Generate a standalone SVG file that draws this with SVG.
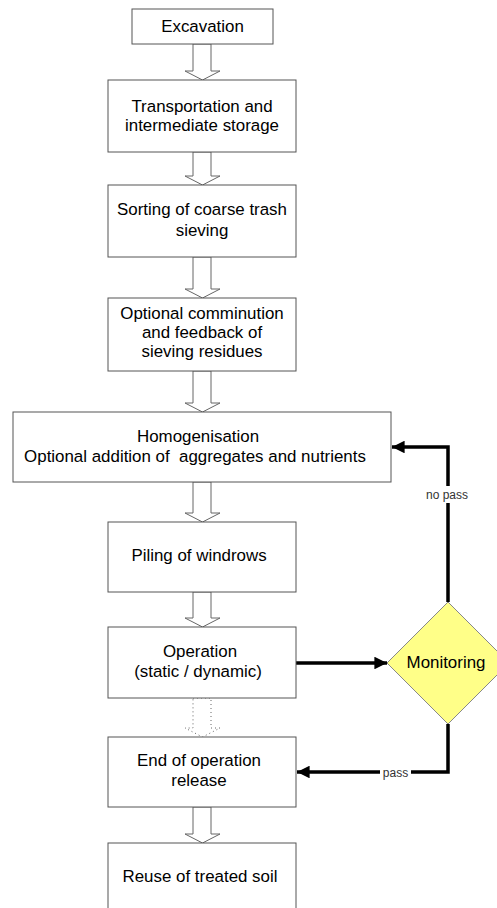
<svg xmlns="http://www.w3.org/2000/svg" width="497" height="908" viewBox="0 0 497 908">
  <defs>
    <style>
      .box { fill: #ffffff; stroke: #555555; stroke-width: 1; }
      .lbl { font-family: "Liberation Sans", Arial, sans-serif; font-size: 16.9px; fill: #000000; text-anchor: middle; }
      .flow { fill: #ffffff; stroke: #666666; stroke-width: 1; }
      .flow-dot { fill: #ffffff; stroke: #666666; stroke-width: 1; stroke-dasharray: 1 3; }
      .link { fill: none; stroke: #000000; stroke-width: 3.5; }
      .tag { font-family: "Liberation Sans", Arial, sans-serif; font-size: 12px; fill: #333333; text-anchor: middle; }
    </style>
    <marker id="head" viewBox="0 0 10 10" refX="10" refY="5" markerWidth="5" markerHeight="3.6" orient="auto" markerUnits="strokeWidth">
      <path d="M0,0 L10,5 L0,10 Z" fill="#000000"/>
    </marker>
  </defs>

  <!-- connectors -->
  <g id="connectors">
    <!-- hollow block arrows between the process steps -->
    <path class="flow" d="M193,44 L211,44 L211,71 L220,71 L202.5,80 L185,71 L193,71 Z"/>
    <path class="flow" d="M193,152 L211,152 L211,176 L220,176 L202.5,185 L185,176 L193,176 Z"/>
    <path class="flow" d="M193,257 L211,257 L211,289 L220,289 L202.5,298 L185,289 L193,289 Z"/>
    <path class="flow" d="M193,371 L211,371 L211,403 L220,403 L202.5,412 L185,403 L193,403 Z"/>
    <path class="flow" d="M193,482 L211,482 L211,513 L220,513 L202.5,522 L185,513 L193,513 Z"/>
    <path class="flow" d="M193,592 L211,592 L211,618 L220,618 L202.5,627 L185,618 L193,618 Z"/>
    <path class="flow-dot" d="M193,698 L211,698 L211,728 L220,728 L202.5,737 L185,728 L193,728 Z"/>
    <path class="flow" d="M193,807 L211,807 L211,834 L220,834 L202.5,843 L185,834 L193,834 Z"/>

    <!-- operation to monitoring -->
    <line class="link" x1="296" y1="663" x2="387" y2="663" marker-end="url(#head)"/>
    <!-- monitoring: no pass back to homogenisation -->
    <path class="link" d="M448,602 L448,447 L392,447" marker-end="url(#head)"/>
    <rect x="421" y="486" width="54" height="17" fill="#ffffff"/>
    <text class="tag" x="447" y="499">no pass</text>
    <!-- monitoring: pass to end of operation -->
    <path class="link" d="M448,724 L448,772 L297,772" marker-end="url(#head)"/>
    <rect x="380" y="764" width="31" height="16" fill="#ffffff"/>
    <text class="tag" x="395.5" y="776.5">pass</text>
  </g>

  <g id="excavation">
    <rect class="box" x="132" y="9" width="141" height="35"/>
    <text class="lbl" x="202.5" y="32">Excavation</text>
  </g>

  <g id="transportation">
    <rect class="box" x="108" y="80" width="188" height="72"/>
    <text class="lbl" x="202" y="112">Transportation and</text>
    <text class="lbl" x="202" y="131">intermediate storage</text>
  </g>

  <g id="sorting">
    <rect class="box" x="108" y="185" width="188" height="72"/>
    <text class="lbl" x="202" y="215">Sorting of coarse trash</text>
    <text class="lbl" x="202" y="236">sieving</text>
  </g>

  <g id="comminution">
    <rect class="box" x="108" y="298" width="188" height="73"/>
    <text class="lbl" x="202" y="319">Optional comminution</text>
    <text class="lbl" x="202" y="338">and feedback of</text>
    <text class="lbl" x="202" y="357">sieving residues</text>
  </g>

  <g id="homogenisation">
    <rect class="box" x="13" y="412" width="378" height="70"/>
    <text class="lbl" x="198" y="442">Homogenisation</text>
    <text class="lbl" x="195" y="462" xml:space="preserve">Optional addition of  aggregates and nutrients</text>
  </g>

  <g id="piling">
    <rect class="box" x="108" y="522" width="188" height="70"/>
    <text class="lbl" x="199" y="561">Piling of windrows</text>
  </g>

  <g id="operation">
    <rect class="box" x="108" y="627" width="188" height="71"/>
    <text class="lbl" x="200" y="657">Operation</text>
    <text class="lbl" x="198" y="677">(static / dynamic)</text>
  </g>

  <g id="monitoring">
    <path d="M448,602 L509,663 L448,724 L387,663 Z" fill="#ffff88" stroke="#888888" stroke-width="1"/>
    <text class="lbl" x="446" y="668">Monitoring</text>
  </g>

  <g id="end-of-operation">
    <rect class="box" x="108" y="737" width="188" height="70"/>
    <text class="lbl" x="199" y="766">End of operation</text>
    <text class="lbl" x="199" y="786">release</text>
  </g>

  <g id="reuse">
    <rect class="box" x="108" y="843" width="188" height="80"/>
    <text class="lbl" x="200" y="882">Reuse of treated soil</text>
  </g>
</svg>
